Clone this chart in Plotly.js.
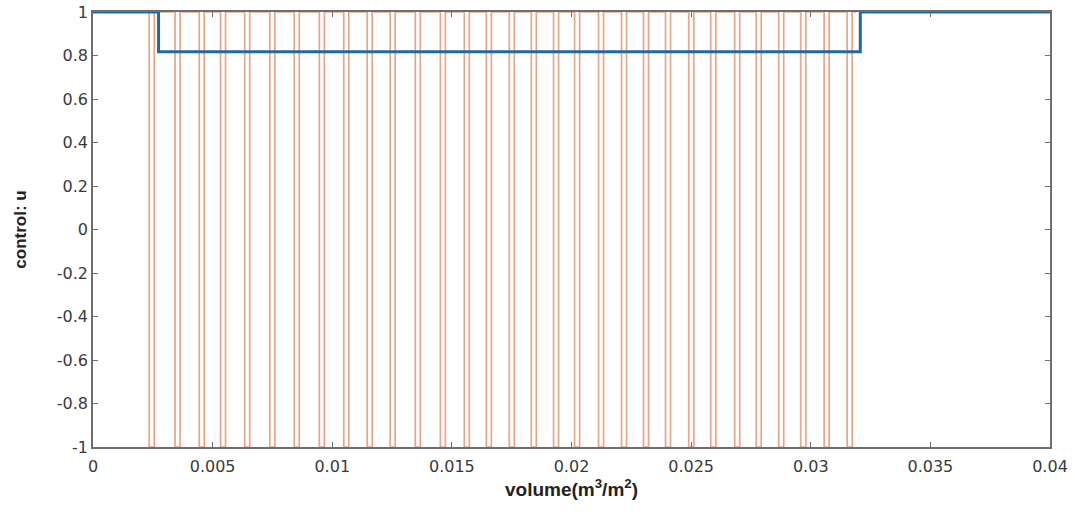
<!DOCTYPE html>
<html>
<head>
<meta charset="utf-8">
<script src="https://cdn.plot.ly/plotly-3.0.1.min.js"></script>
<style>html,body{margin:0;padding:0;background:#fff;}#chart{width:1075px;height:512px;}</style>
</head>
<body>
<div id="chart"></div>
<script>
// Blue control (continuous optimum)
const blueX = [0, 0.00274, 0.03207, 0.04];
const blueY = [1, 0.817, 1, 1];

// Orange bang-bang control: switch-down (to -1) and switch-up (to 1) volumes
const dipStart = [0.00235, 0.00343, 0.00444, 0.00533, 0.00634, 0.00739, 0.00841, 0.00946, 0.01048, 0.01146,
                  0.01242, 0.01347, 0.01452, 0.01552, 0.01644, 0.01740, 0.01832, 0.01925, 0.02013, 0.02113,
                  0.02209, 0.02301, 0.02393, 0.02490, 0.02582, 0.02682, 0.02772, 0.02866, 0.02958, 0.03056, 0.03152];
const dipEnd   = [0.00256, 0.00364, 0.00465, 0.00554, 0.00655, 0.00760, 0.00862, 0.00967, 0.01069, 0.01167,
                  0.01263, 0.01368, 0.01473, 0.01573, 0.01665, 0.01761, 0.01853, 0.01946, 0.02034, 0.02134,
                  0.02230, 0.02322, 0.02414, 0.02511, 0.02603, 0.02703, 0.02793, 0.02887, 0.02979, 0.03077, 0.03173];
const orangeEnd = 0.0319;

const xTicks = [0, 0.005, 0.01, 0.015, 0.02, 0.025, 0.03, 0.035, 0.04];
const xTickText = ["0", "0.005", "0.01", "0.015", "0.02", "0.025", "0.03", "0.035", "0.04"];
const yTicks = [-1, -0.8, -0.6, -0.4, -0.2, 0, 0.2, 0.4, 0.6, 0.8, 1];
const yTickText = ["-1", "-0.8", "-0.6", "-0.4", "-0.2", "0", "0.2", "0.4", "0.6", "0.8", "1"];

const ox = [0], oy = [1];
for (let i = 0; i < dipStart.length; i++) {
  ox.push(dipStart[i]); oy.push(-1);
  ox.push(dipEnd[i]); oy.push(1);
}
ox.push(orangeEnd); oy.push(1);

const traces = [
  {x: ox, y: oy, type: 'scatter', mode: 'lines', line: {shape: 'hv', color: '#D46A3A', width: 1.7}, opacity: 0.6, hoverinfo: 'skip'},
  {x: blueX, y: blueY, type: 'scatter', mode: 'lines', line: {shape: 'hv', color: '#1F68A6', width: 3}, hoverinfo: 'skip'}
];

const fontFam = 'DejaVu Sans, Liberation Sans, Arial, sans-serif';
const axisCommon = {
  showline: true, linecolor: '#6e6e6e', linewidth: 1.8, mirror: 'ticks',
  ticks: 'inside', ticklen: 5, tickcolor: '#6e6e6e', tickwidth: 1,
  showgrid: false, zeroline: false,
  tickfont: {family: fontFam, size: 16, color: '#3a3a3a'}
};

const layout = {
  width: 1075, height: 512,
  margin: {l: 93, r: 25, t: 12, b: 65},
  paper_bgcolor: '#fff', plot_bgcolor: '#fff',
  showlegend: false,
  xaxis: Object.assign({}, axisCommon, {
    range: [0, 0.04], tickvals: xTicks, ticktext: xTickText, ticklabelstandoff: 4,
    title: {text: '<b>volume(m<sup>3</sup>/m<sup>2</sup>)</b>', font: {family: 'Liberation Sans, Arial, sans-serif', size: 19, color: '#222'}, standoff: 8}
  }),
  yaxis: Object.assign({}, axisCommon, {
    range: [-1, 1], tickvals: yTicks, ticktext: yTickText,
    title: {text: '<b>control: u</b>', font: {family: 'Liberation Sans, Arial, sans-serif', size: 17, color: '#222'}, standoff: 26}
  })
};

Plotly.newPlot('chart', traces, layout, {displayModeBar: false, staticPlot: true});
</script>
</body>
</html>
